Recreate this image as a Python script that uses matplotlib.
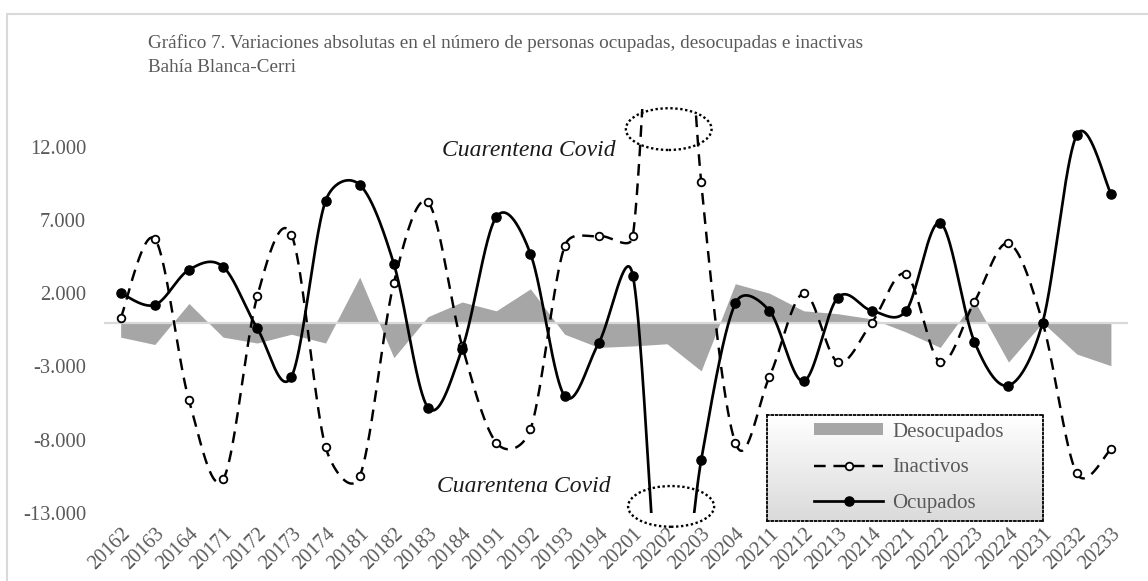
import numpy as np
import matplotlib
matplotlib.use("Agg")
import matplotlib.pyplot as plt
from matplotlib.patches import Ellipse, Rectangle, Patch
from matplotlib.lines import Line2D
from matplotlib.ticker import FixedLocator, FuncFormatter
from matplotlib.colors import LinearSegmentedColormap

# ---------------- data ----------------
periodos = ["20162", "20163", "20164", "20171", "20172", "20173", "20174",
            "20181", "20182", "20183", "20184", "20191", "20192", "20193",
            "20194", "20201", "20202", "20203", "20204", "20211", "20212",
            "20213", "20214", "20221", "20222", "20223", "20224", "20231",
            "20232", "20233"]

desocupados = [-1000, -1500, 1300, -1000, -1400, -800, -1400, 3100, -2400, 400,
               1400, 800, 2300, -800, -1700, -1600, -1450, -3300, 2650, 2000,
               800, 600, 250, -650, -1700, 1500, -2700, 0, -2150, -2950]

inactivos = [300, 5700, -5300, -10700, 1800, 6000, -8500, -10500, 2700, 8200,
             -1600, -8200, -7300, 5200, 5900, 5900, 40000, 9600, -8200, -3700,
             2000, -2700, 0, 3300, -2700, 1400, 5400, 0, -10300, -8650]

ocupados = [2000, 1200, 3600, 3800, -400, -3700, 8300, 9400, 4000, -5800,
            -1800, 7200, 4700, -5000, -1400, 3200, -25000, -9400, 1300, 800,
            -4000, 1700, 800, 800, 6800, -1300, -4300, 0, 12800, 8800]

yticks = [-13000, -8000, -3000, 2000, 7000, 12000]

titulo_1 = "Gráfico 7. Variaciones absolutas en el número de personas ocupadas, desocupadas e inactivas"
titulo_2 = "Bahía Blanca-Cerri"
nota = "Cuarentena Covid"

# ---------------- style ----------------
SERIF = ["Liberation Serif", "DejaVu Serif"]
GRAY_TXT = "#595959"
W, H = 1148, 581
fig = plt.figure(figsize=(W / 100, H / 100), dpi=100)
fig.patch.set_facecolor("white")

# chart-area border (light grey, cropped on right and bottom)
fig.patches.append(Rectangle((6.5 / W, -0.1), 1.2, 1.1 - 14 / H,
                             transform=fig.transFigure, fill=False,
                             edgecolor="#d9d9d9", linewidth=1.5))

ax_left, ax_right = 103.6 / W, 1128 / W
ax_bot_px, ax_top_px = 513.0, 108.6
ax = fig.add_axes([ax_left, (H - ax_bot_px) / H, ax_right - ax_left,
                   (ax_bot_px - ax_top_px) / H])
ax.set_facecolor("none")

x = np.arange(len(periodos))
ax.set_xlim(-0.5, len(periodos) - 0.5)
ax.set_ylim(-13000, 14600)


def excel_smooth(axis, xs, ys, n=60):
    """Excel-like smoothed line (Bezier, tension 1/6, clamped) in display space."""
    pts = axis.transData.transform(np.column_stack([xs, ys]).astype(float))
    m = len(pts)
    f = 1.0 / 6.0
    segs = []
    t = np.linspace(0, 1, n)[:, None]
    for i in range(m - 1):
        p0 = pts[i - 1] if i > 0 else pts[i]
        p1, p2 = pts[i], pts[i + 1]
        p3 = pts[i + 2] if i + 2 < m else pts[i + 1]
        d12 = np.linalg.norm(p2 - p1)
        d02 = np.linalg.norm(p2 - p0)
        d13 = np.linalg.norm(p3 - p1)
        f1 = f if d02 * f <= d12 / 2 or d02 == 0 else d12 / (2 * d02)
        f2 = f if d13 * f <= d12 / 2 or d13 == 0 else d12 / (2 * d13)
        c1 = p1 + f1 * (p2 - p0)
        c2 = p2 - f2 * (p3 - p1)
        seg = ((1 - t) ** 3) * p1 + 3 * ((1 - t) ** 2) * t * c1 \
            + 3 * (1 - t) * (t ** 2) * c2 + (t ** 3) * p2
        segs.append(seg if i == 0 else seg[1:])
    return axis.transData.inverted().transform(np.vstack(segs))


# Desocupados (area)
ax.fill_between(x, 0, desocupados, color="#a6a6a6", linewidth=0, zorder=1)
# zero axis line
ax.axhline(0, color="#d9d9d9", linewidth=1.6, zorder=2)

dash = (0, (4.8, 3.2))
# Inactivos
sx, sy = excel_smooth(ax, x, inactivos).T
ax.plot(sx, sy, color="black", linewidth=1.75, linestyle=dash, zorder=3)
ax.plot(x, inactivos, linestyle="none", marker="o", markersize=5.5,
        markerfacecolor="white", markeredgecolor="black",
        markeredgewidth=1.3, zorder=4)
# Ocupados
sx, sy = excel_smooth(ax, x, ocupados).T
ax.plot(sx, sy, color="black", linewidth=1.95, linestyle="-", zorder=5)
ax.plot(x, ocupados, linestyle="none", marker="o", markersize=6.6,
        markerfacecolor="black", markeredgecolor="black", zorder=6)

# axes styling
for s in ax.spines.values():
    s.set_visible(False)
ax.yaxis.set_major_locator(FixedLocator(yticks))
ax.yaxis.set_major_formatter(
    FuncFormatter(lambda v, p: f"{v:,.0f}".replace(",", ".")))
ax.set_xticks(x)
ax.set_xticklabels(periodos)
ax.tick_params(axis="both", length=0)
ax.tick_params(axis="y", pad=12.5, labelsize=14.8, labelcolor=GRAY_TXT)
ax.tick_params(axis="x", pad=8.5, labelsize=14.5, labelcolor=GRAY_TXT)
for lab in ax.get_yticklabels():
    lab.set_family(SERIF)
for lab in ax.get_xticklabels():
    lab.set_family(SERIF)
    lab.set_rotation(45)
    lab.set_ha("right")
    lab.set_va("top")
    lab.set_rotation_mode("anchor")

# Covid annotations
i_covid = periodos.index("20202")
ax.add_patch(Ellipse((i_covid + 0.05, 13200), width=2.51, height=2850,
                     fill=False, edgecolor="black", linewidth=1.7,
                     linestyle=(0, (1, 1.1)), clip_on=False, zorder=7))
ax.add_patch(Ellipse((i_covid + 0.12, -12550), width=2.52, height=2780,
                     fill=False, edgecolor="black", linewidth=1.7,
                     linestyle=(0, (1, 1.1)), clip_on=False, zorder=7))
ax.text(i_covid - 4.04, 11770, nota, ha="center", va="center",
        fontsize=17, fontstyle="italic", family=SERIF, color="#1a1a1a")
ax.text(i_covid - 4.19, -11210, nota, ha="center", va="center",
        fontsize=17, fontstyle="italic", family=SERIF, color="#1a1a1a")

# Title
fig.text(148 / W, 1 - 48 / H, titulo_1, ha="left", va="baseline",
         fontsize=13.8, family=SERIF, color=GRAY_TXT)
fig.text(148 / W, 1 - 72 / H, titulo_2, ha="left", va="baseline",
         fontsize=13.8, family=SERIF, color=GRAY_TXT)

# Legend box with gradient fill
lg_l, lg_r, lg_t, lg_b = 766.7, 1043.3, 415.0, 520.7
lax = fig.add_axes([lg_l / W, (H - lg_b) / H, (lg_r - lg_l) / W,
                    (lg_b - lg_t) / H])
grad = np.linspace(0, 1, 256)[:, None]
cmap = LinearSegmentedColormap.from_list("g", ["#ffffff", "#dadada"])
lax.imshow(grad, aspect="auto", cmap=cmap, extent=[0, 1, 0, 1],
           origin="upper")
lax.set_xticks([])
lax.set_yticks([])
for s in lax.spines.values():
    s.set_linestyle((0, (1, 1.4)))
    s.set_linewidth(1.3)
    s.set_edgecolor("black")

handles = [
    Patch(facecolor="#a6a6a6", edgecolor="none", label="Desocupados"),
    Line2D([], [], color="black", linewidth=1.75, linestyle=dash, marker="o",
           markersize=5.5, markerfacecolor="white", markeredgecolor="black",
           markeredgewidth=1.3, label="Inactivos"),
    Line2D([], [], color="black", linewidth=1.95, marker="o", markersize=6.6,
           markerfacecolor="black", label="Ocupados"),
]
leg = lax.legend(handles=handles, loc="center", bbox_to_anchor=(0.515, 0.5),
                 frameon=False, numpoints=1, handlelength=3.3,
                 handleheight=0.5, handletextpad=0.45, labelspacing=0.8,
                 prop={"family": SERIF, "size": 15})
for t_ in leg.get_texts():
    t_.set_color(GRAY_TXT)

fig.savefig("out.png", dpi=100)
